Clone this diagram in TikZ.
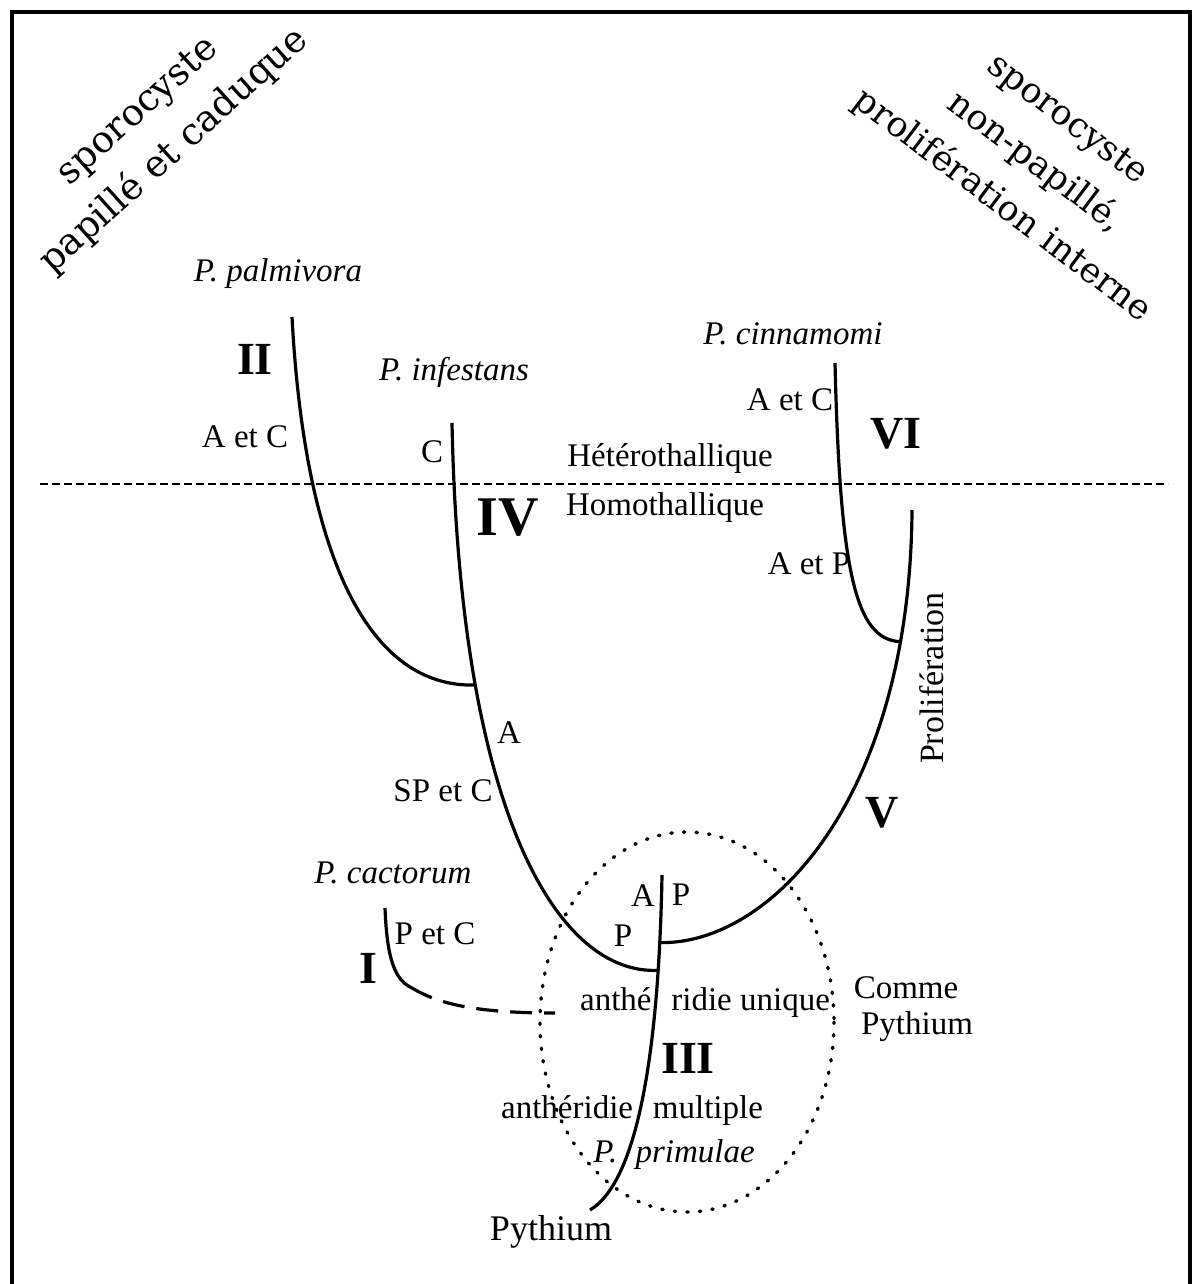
\documentclass[tikz,border=0pt]{standalone}
\usepackage{fontspec}
\setmainfont{Liberation Serif}
\newfontfamily\diagfont{DejaVu Serif}
\begin{document}
\begin{tikzpicture}[x=0.5pt,y=-0.5pt,
  lbl/.style={inner sep=0pt, font=\fontsize{16.5}{19}\selectfont},
  sp/.style={inner sep=0pt, font=\fontsize{16.5}{19}\selectfont\itshape},
  num/.style={inner sep=0pt, font=\fontsize{23}{26}\selectfont\bfseries},
  diag/.style={inner sep=0pt, align=center, font=\diagfont\fontsize{17.5}{27}\selectfont},
  frame/.style={line width=1.6pt},
  branch/.style={line width=1.6pt},
  thal/.style={line width=1.3pt, dash pattern=on 4pt off 2pt},
  lost/.style={line width=1.6pt, dash pattern=on 11pt off 6pt},
  pyth/.style={line width=1.7pt, line cap=round, dash pattern=on 0.7pt off 5.6pt}]
\useasboundingbox (0,0) rectangle (1193,1284);
\draw[frame] (12,1284) -- (12,12) -- (1190,12) -- (1190,1284);

% diagonal headings
\node[diag, rotate=42, font=\diagfont\fontsize{18.5}{27}\selectfont] (tl) at (157,132) {sporocyste\\papillé et caduque};
\node[diag, rotate=-37] (tr) at (1034,164) {sporocyste\\non-papillé,\\prolifération interne};

% heterothallic / homothallic boundary
\coordinate (hl) at (40,484);
\coordinate (hr) at (1168,484);
\draw[thal] (hl) -- (hr);
\node[lbl] (het) at (670,459) {Hétérothallique};
\node[lbl] (hom) at (665,508) {Homothallique};

% main stem (P. primulae / Pythium)
\coordinate (stemtop) at (662,875);
\coordinate (stembot) at (590,1210);
\draw[branch] (stemtop) .. controls (659,1040) and (640,1180) .. (stembot)
  coordinate[pos=0.14] (jV) coordinate[pos=0.2] (jIV);

% group IV (P. infestans)
\coordinate (inftop) at (452,423);
\draw[branch] (inftop) .. controls (460,820) and (560,975) .. (jIV)
  coordinate[pos=0.26] (jII);

% group II (P. palmivora)
\coordinate (paltop) at (292,317);
\draw[branch] (paltop) .. controls (305,560) and (370,688) .. (jII);

% group V (proliferation)
\coordinate (vtop) at (912,510);
\draw[branch] (jV) .. controls (770,945) and (910,800) .. (vtop)
  coordinate[pos=0.835] (jVI);

% group VI (P. cinnamomi)
\coordinate (cintop) at (835,363);
\draw[branch] (cintop) .. controls (840,570) and (855,640) .. (jVI);

% group I (P. cactorum)
\coordinate (cactop) at (385,908);
\coordinate (cacmid) at (412,988);
\coordinate (cacend) at (555,1013);
\draw[branch] (cactop) .. controls (387,960) and (395,980) .. (cacmid);
\draw[lost] (cacmid) .. controls (440,1005) and (480,1013) .. (cacend);

% "comme Pythium" group
\draw[pyth] (687,1022) ellipse [x radius=147, y radius=190];

% species names
\node[sp] (palm) at (278,274) {P. palmivora};
\node[sp] (infe) at (454,372) {P. infestans};
\node[sp] (cinn) at (793,334) {P. cinnamomi};
\node[sp] (cact) at (393,873) {P. cactorum};
\node[sp] (prim) at (674,1155) {P.\hspace{0.55em}primulae};

% group numerals
\node[num] (gII) at (255,359) {II};
\node[num, font=\fontsize{28}{30}\selectfont\bfseries] (gIV) at (508,518) {IV};
\node[num] (gVI) at (896,434) {VI};
\node[num] (gV) at (882,813) {V};
\node[num] (gI) at (368,968) {I};
\node[num] (gIII) at (688,1058) {III};

% character labels
\node[lbl] (l1) at (245,437) {A et C};
\node[lbl] (l2) at (432,452) {C};
\node[lbl] (l3) at (790,400) {A et C};
\node[lbl] (l4) at (809,564) {A et P};
\node[lbl, rotate=90, font=\fontsize{17}{19}\selectfont] (l5) at (932,678) {Prolifération};
\node[lbl] (l6) at (509,733) {A};
\node[lbl] (l7) at (443,791) {SP et C};
\node[lbl] (l8) at (435,934) {P et C};
\node[lbl] (l9) at (643,896) {A};
\node[lbl] (l10) at (681,895) {P};
\node[lbl] (l11) at (623,936) {P};
\node[lbl] (l12) at (705,1003) {anthé\hspace{0.6em}ridie unique};
\node[lbl] (l13) at (632,1111) {anthéridie\hspace{0.6em}multiple};
\node[lbl] (l14) at (906,988) {Comme};
\node[lbl] (l15) at (917,1027) {Pythium};
\node[lbl, font=\fontsize{18}{20}\selectfont] (l16) at (551,1232) {Pythium};
\end{tikzpicture}
\end{document}
